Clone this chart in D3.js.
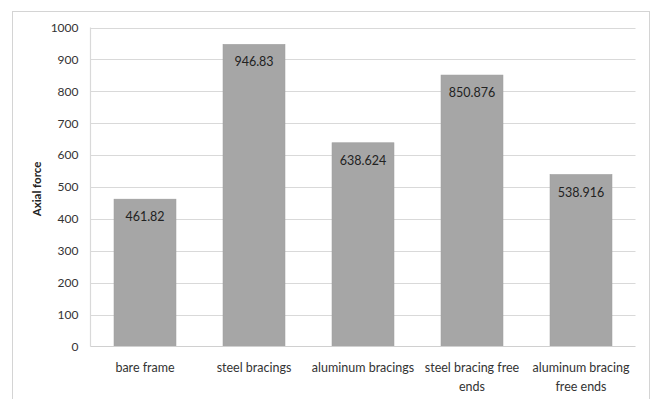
<!DOCTYPE html>
<html>
<head>
<meta charset="utf-8">
<script src="https://cdn.jsdelivr.net/npm/d3@7"></script>
<style>
  html, body { margin: 0; padding: 0; background: #fff; }
  svg { display: block; font-family: Lato, "Open Sans", sans-serif; }
</style>
</head>
<body>
<svg id="chart" width="654" height="399"></svg>
<script>
// Axial force for each bracing configuration
const categories = [
  "bare frame",
  "steel bracings",
  "aluminum bracings",
  "steel bracing free ends",
  "aluminum bracing free ends"
];
const axialForce = [461.82, 946.83, 638.624, 850.876, 538.916];
const yTicks = [0, 100, 200, 300, 400, 500, 600, 700, 800, 900, 1000];
const yTitle = "Axial force";

const svg = d3.select("#chart");
const plot = { left: 90.5, right: 635.5, top: 27.5, bottom: 346.5 };

// Chart frame (bottom edge falls below the visible area)
svg.append("rect")
  .attr("x", 12.5).attr("y", 11.5)
  .attr("width", 637).attr("height", 400)
  .attr("fill", "#fff").attr("stroke", "#d4d4d4").attr("stroke-width", 1);

const x = d3.scaleBand()
  .domain(categories)
  .range([plot.left, plot.right])
  .paddingInner(0.432)
  .paddingOuter(0.216);

const y = d3.scaleLinear()
  .domain([0, 1000])
  .range([plot.bottom, plot.top]);

// Horizontal gridlines
svg.append("g")
  .selectAll("line")
  .data(yTicks.filter(d => d > 0))
  .join("line")
  .attr("x1", plot.left).attr("x2", plot.right)
  .attr("y1", d => Math.round(y(d)) + 0.5).attr("y2", d => Math.round(y(d)) + 0.5)
  .attr("stroke", "#d9d9d9").attr("stroke-width", 1.2);

// Value axis line
svg.append("line")
  .attr("x1", plot.left).attr("x2", plot.left)
  .attr("y1", plot.top).attr("y2", plot.bottom)
  .attr("stroke", "#d9d9d9").attr("stroke-width", 1.2);

// Y axis labels
const yAxis = d3.axisLeft(y).tickValues(yTicks).tickFormat(d3.format("d"))
  .tickSize(0).tickPadding(12);
const gy = svg.append("g").attr("transform", `translate(${plot.left},0)`).call(yAxis);
gy.select(".domain").remove();
gy.selectAll("text")
  .attr("font-family", "Lato, 'Open Sans', sans-serif")
  .attr("font-size", 12)
  .attr("fill", "#333");

// Bars
svg.append("g")
  .selectAll("rect")
  .data(categories.map((c, i) => ({ c, v: axialForce[i] })))
  .join("rect")
  .attr("x", d => x(d.c))
  .attr("y", d => y(d.v))
  .attr("width", x.bandwidth())
  .attr("height", d => y(0) - y(d.v))
  .attr("fill", "#a6a6a6")
  .attr("stroke", "#9c9c9c")
  .attr("stroke-width", 0.6);

// Category axis line
svg.append("line")
  .attr("x1", plot.left).attr("x2", plot.right)
  .attr("y1", plot.bottom).attr("y2", plot.bottom)
  .attr("stroke", "#d0d0d0").attr("stroke-width", 1.2);

// Value labels inside the top of each bar
svg.append("g")
  .selectAll("text")
  .data(categories.map((c, i) => ({ c, v: axialForce[i] })))
  .join("text")
  .attr("x", d => x(d.c) + x.bandwidth() / 2)
  .attr("y", d => y(d.v) + 22)
  .attr("text-anchor", "middle")
  .attr("font-size", 12.5)
  .attr("fill", "#222")
  .text(d => String(d.v));

// X axis labels, wrapped to the category width
const xAxis = d3.axisBottom(x).tickSize(0).tickPadding(0);
const gx = svg.append("g").attr("transform", `translate(0,${plot.bottom})`).call(xAxis);
gx.select(".domain").remove();
gx.selectAll("text")
  .attr("font-family", "Lato, 'Open Sans', sans-serif")
  .attr("font-size", 12.5)
  .attr("fill", "#333")
  .call(wrap, x.step() + 2);

function wrap(sel, width) {
  sel.each(function () {
    const text = d3.select(this);
    const words = text.text().split(/\s+/);
    text.text(null).attr("dy", null).attr("y", null);
    let line = [];
    let lineNo = 0;
    let tspan = text.append("tspan").attr("x", 0).attr("y", 25.5);
    for (const w of words) {
      line.push(w);
      tspan.text(line.join(" "));
      if (tspan.node().getComputedTextLength() > width && line.length > 1) {
        line.pop();
        tspan.text(line.join(" "));
        line = [w];
        lineNo++;
        tspan = text.append("tspan").attr("x", 0).attr("y", 25.5 + lineNo * 19).text(w);
      }
    }
  });
}

// Y axis title
svg.append("text")
  .attr("transform", `translate(41,${(plot.top + plot.bottom) / 2 + 2}) rotate(-90)`)
  .attr("text-anchor", "middle")
  .attr("font-size", 11.5)
  .attr("font-weight", "bold")
  .attr("fill", "#222")
  .text(yTitle);
</script>
</body>
</html>
